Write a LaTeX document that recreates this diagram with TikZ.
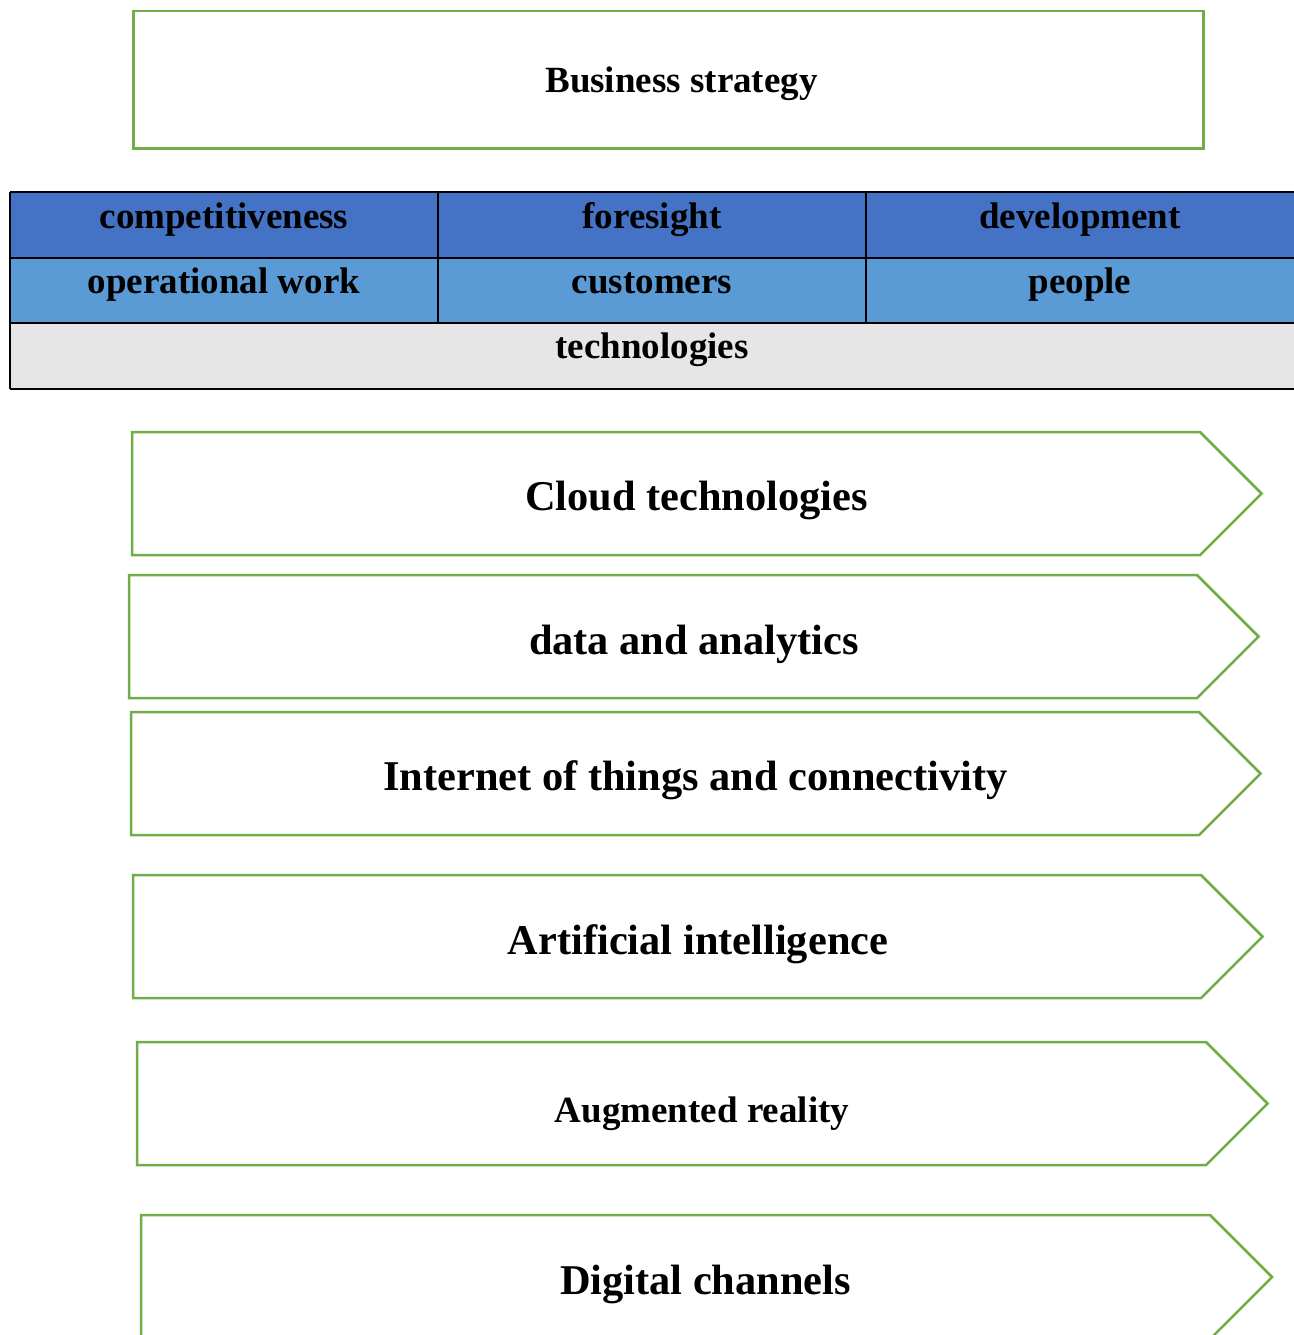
\documentclass[tikz,border=0pt]{standalone}
\usepackage{fontspec}
\setmainfont{Liberation Serif}
\definecolor{leaf}{HTML}{70AD47}
\definecolor{deepblue}{HTML}{4472C4}
\definecolor{skyblue}{HTML}{5B9BD5}
\definecolor{lightgray}{HTML}{E6E6E6}
\tikzset{
  greenline/.style={draw=leaf, line width=2.5pt},
  gridline/.style={draw=black, line width=2pt},
  cellbox/.style={rectangle, anchor=north west, inner sep=0pt, draw=none},
  tabtext/.style={anchor=base, inner sep=0pt, font=\fontsize{37}{40}\selectfont\bfseries},
  bigtext/.style={anchor=base, inner sep=0pt, font=\fontsize{42.4}{46}\selectfont\bfseries},
}
% pentagon arrow: #1 left, #2 top, #3 bottom, #4 shoulder x, #5 name
\newcommand\chevronbox[5]{%
  \draw[greenline] (#1,#2) coordinate (#5-nw) -- (#4,#2) -- ({#4+(#3-#2)/2},{(#2+#3)/2}) coordinate (#5-tip)
    -- (#4,#3) -- (#1,#3) coordinate (#5-sw) -- cycle;}
\begin{document}
\begin{tikzpicture}[x=1pt,y=-1pt]
\useasboundingbox (0,0) rectangle (1293,1335);
\fill[white] (0,0) rectangle (1293,1335);

% heading box
\node[greenline, rectangle, anchor=north west, inner sep=0pt,
      minimum width=1070pt, minimum height=137pt] (strategy) at (132,10) {};
\node[tabtext] (strategytext) at (681.5,93) {Business strategy};

% table cells
\node[cellbox, fill=deepblue, minimum width=428pt, minimum height=66pt] (c11) at (10,192) {};
\node[cellbox, fill=deepblue, minimum width=428pt, minimum height=66pt] (c12) at (438,192) {};
\node[cellbox, fill=deepblue, minimum width=430pt, minimum height=66pt] (c13) at (866,192) {};
\node[cellbox, fill=skyblue, minimum width=428pt, minimum height=65pt] (c21) at (10,258) {};
\node[cellbox, fill=skyblue, minimum width=428pt, minimum height=65pt] (c22) at (438,258) {};
\node[cellbox, fill=skyblue, minimum width=430pt, minimum height=65pt] (c23) at (866,258) {};
\node[cellbox, fill=lightgray, minimum width=1286pt, minimum height=66pt] (c31) at (10,323) {};

% table rules
\draw[gridline] (c11.north west) -- (c13.north east);
\draw[gridline] (c11.south west) -- (c13.south east);
\draw[gridline] (c21.south west) -- (c23.south east);
\draw[gridline] (c31.south west) -- (c31.south east);
\draw[gridline] (c11.north west) -- (c31.south west);
\draw[gridline] (c11.north east) -- (c21.south east);
\draw[gridline] (c12.north east) -- (c22.south east);

% table texts
\node[tabtext] (t11) at (224,228.5) {competitiveness};
\node[tabtext] (t12) at (652,228.5) {foresight};
\node[tabtext] (t13) at (1080,228.5) {development};
\node[tabtext] (t21) at (224,293.5) {operational work};
\node[tabtext] (t22) at (652,293.5) {customers};
\node[tabtext] (t23) at (1080,293.5) {people};
\node[tabtext] (t31) at (652,358.5) {technologies};

% technology arrows
\chevronbox{132}{432}{555}{1200}{cloud}
\node[bigtext] (cloudtext) at (696.5,510) {Cloud technologies};

\chevronbox{129}{575}{698}{1197}{data}
\node[bigtext] (datatext) at (694,654) {data and analytics};

\chevronbox{131}{712}{835}{1199}{iot}
\node[bigtext] (iottext) at (695.5,790) {Internet of things and connectivity};

\chevronbox{133}{875}{998}{1201}{ai}
\node[bigtext] (aitext) at (698,954) {Artificial intelligence};

\chevronbox{137}{1042}{1165}{1206}{ar}
\node[tabtext] (artext) at (702,1122) {Augmented reality};

\chevronbox{141}{1215}{1339}{1210}{digital}
\node[bigtext] (digitaltext) at (705.5,1294.5) {Digital channels};
\end{tikzpicture}
\end{document}
